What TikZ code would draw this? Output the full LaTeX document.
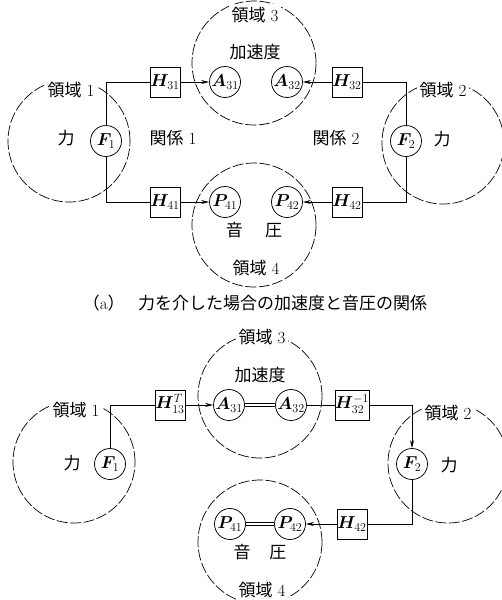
\documentclass[tikz,border=0pt]{standalone}
\usepackage{fontspec}
\usepackage{bm}
\newfontfamily\cjk{Noto Sans CJK JP}
\usetikzlibrary{arrows.meta}
\begin{document}
\begin{tikzpicture}[x=1pt,y=-1pt,
  region/.style={draw, dash pattern=on 11pt off 2.5pt, line width=0.7pt},
  var/.style={circle, draw, line width=0.75pt, minimum size=31pt, inner sep=-1pt, font=\fontsize{18}{21}\selectfont},
  tf/.style={rectangle, draw, line width=0.75pt, minimum size=30pt, inner sep=0pt, font=\fontsize{18}{21}\selectfont},
  lab/.style={fill=white, inner sep=3pt, font=\fontsize{17}{20}\selectfont},
  txt/.style={font=\fontsize{17}{20}\selectfont},
  conn/.style={line width=0.75pt},
  arr/.style={conn, -{Stealth[length=8pt,width=4pt]}},
]
\useasboundingbox (0,0) rectangle (502,600);

% ---------------- (a) ----------------
\draw[region] (69,141) circle[radius=61pt];
\draw[region] (443,143) circle[radius=61pt];
\draw[region] (254,63) circle[radius=62pt];
\draw[region] (254,225) circle[radius=62pt];

\node[lab] (L1a) at (71,90) {{\cjk 領域} 1};
\node[lab] (L2a) at (443,90) {{\cjk 領域} 2};
\node[lab] (L3a) at (255,15) {{\cjk 領域} 3};
\node[lab] (L4a) at (256,268) {{\cjk 領域} 4};

\node[txt] (Fa1t) at (66,138) {\cjk 力};
\node[txt] (Fa2t) at (442,139) {\cjk 力};
\node[txt] (K1) at (173,138) {{\cjk 関係} 1};
\node[txt] (K2) at (336,138) {{\cjk 関係} 2};
\node[txt] (ACCa) at (255,52) {\cjk 加速度};
\node[txt] (SPa) at (254,230) {\cjk 音\hspace{1.3em}圧};

\node[var] (F1a) at (106,141) {$\bm{F}_{1}$};
\node[var] (F2a) at (406,141) {$\bm{F}_{2}$};
\node[tf] (H31) at (165,82) {$\bm{H}_{31}$};
\node[var] (A31a) at (225,82) {$\bm{A}_{31}$};
\node[var] (A32a) at (287,82) {$\bm{A}_{32}$};
\node[tf] (H32) at (347,82) {$\bm{H}_{32}$};
\node[tf] (H41) at (165,202) {$\bm{H}_{41}$};
\node[var] (P41a) at (225,202) {$\bm{P}_{41}$};
\node[var] (P42a) at (287,202) {$\bm{P}_{42}$};
\node[tf] (H42a) at (347,202) {$\bm{H}_{42}$};

\draw[conn] (F1a) |- (H31);
\draw[arr] (H31) -- (A31a);
\draw[conn] (F1a) |- (H41);
\draw[arr] (H41) -- (P41a);
\draw[conn] (F2a) |- (H32);
\draw[arr] (H32) -- (A32a);
\draw[conn] (F2a) |- (H42a);
\draw[arr] (H42a) -- (P42a);

\node[font=\fontsize{17}{20}\selectfont] (capa) at (255,303)
  {{\cjk （}a{\cjk ）}\hspace{0.8em}{\cjk 力を介した場合の加速度と音圧の関係}};

% ---------------- (b) ----------------
\draw[region] (74,462) circle[radius=61pt];
\draw[region] (448,463) circle[radius=60pt];
\draw[region] (260,396) circle[radius=62pt];
\draw[region] (260,542) circle[radius=62pt];

\node[lab] (L1b) at (76,410) {{\cjk 領域} 1};
\node[lab] (L2b) at (448,413) {{\cjk 領域} 2};
\node[lab] (L3b) at (262,337) {{\cjk 領域} 3};
\node[lab] (L4b) at (262,590) {{\cjk 領域} 4};

\node[txt] (Fb1t) at (72,463) {\cjk 力};
\node[txt] (Fb2t) at (449,465) {\cjk 力};
\node[txt] (ACCb) at (260,375) {\cjk 加速度};
\node[txt] (SPb) at (260,552) {\cjk 音\hspace{1.1em}圧};

\node[var] (F1b) at (110,464) {$\bm{F}_{1}$};
\node[var] (F2b) at (412,464) {$\bm{F}_{2}$};
\node[tf] (H13) at (170,405) {$\bm{H}^{\smash{T}}_{13}$};
\node[var] (A31b) at (229,405) {$\bm{A}_{31}$};
\node[var] (A32b) at (291,405) {$\bm{A}_{32}$};
\node[tf] (H32i) at (352,405) {$\bm{H}^{\smash{-1}}_{32}$};
\node[var] (P41b) at (230,524) {$\bm{P}_{41}$};
\node[var] (P42b) at (290,524) {$\bm{P}_{42}$};
\node[tf] (H42b) at (352,524) {$\bm{H}_{42}$};

\draw[conn] (F1b) |- (H13);
\draw[arr] (H13) -- (A31b);
\draw[conn, double, double distance=2pt] (A31b) -- (A32b);
\draw[conn] (A32b) -- (H32i);
\draw[arr] (H32i) -| (F2b);
\draw[conn] (F2b) |- (H42b);
\draw[arr] (H42b) -- (P42b);
\draw[conn, double, double distance=2pt] (P41b) -- (P42b);
\end{tikzpicture}
\end{document}
